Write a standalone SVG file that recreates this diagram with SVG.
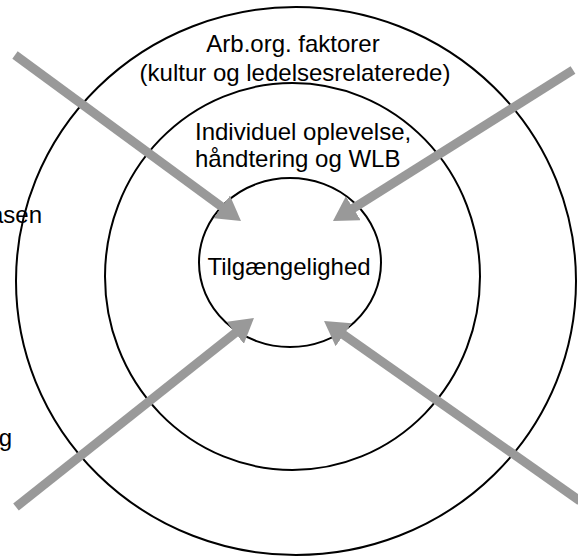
<svg xmlns="http://www.w3.org/2000/svg" width="578" height="556" viewBox="0 0 578 556">
<style>
.ring{fill:none;stroke:#000;stroke-width:2}
.lbl{font-family:"Liberation Sans",Arial,sans-serif;font-size:24px;fill:#000}
.arr{fill:none;stroke:#999;stroke-width:9}
</style>
<defs>
<marker id="ah" markerUnits="userSpaceOnUse" markerWidth="26" markerHeight="28" refX="4" refY="14" orient="auto" viewBox="0 0 26 28">
<path d="M0,0 L24,14 L0,28 z" fill="#999"/>
</marker>
</defs>
<rect width="578" height="556" fill="#fff"/>
<g id="outer">
<ellipse class="ring" cx="296" cy="281" rx="280" ry="274"/>
<text class="lbl" x="293" y="52" text-anchor="middle">Arb.org. faktorer</text>
<text class="lbl" x="295" y="81" text-anchor="middle">(kultur og ledelsesrelaterede)</text>
</g>
<g id="middle">
<ellipse class="ring" cx="292.5" cy="276.5" rx="187.5" ry="193.5"/>
<text class="lbl" x="195" y="140">Individuel oplevelse,</text>
<text class="lbl" x="195" y="167">håndtering og WLB</text>
</g>
<g id="inner">
<ellipse class="ring" cx="290" cy="262.5" rx="91" ry="84.5"/>
<text class="lbl" x="289" y="275" text-anchor="middle">Tilgængelighed</text>
</g>
<g id="left-labels">
<text class="lbl" x="42" y="223" text-anchor="end">asen</text>
<text class="lbl" x="12" y="446" text-anchor="end">g</text>
</g>
<g id="connectors">
<line class="arr" x1="15" y1="55" x2="224.9" y2="209.2" marker-end="url(#ah)"/>
<line class="arr" x1="573" y1="70" x2="349.9" y2="210.4" marker-end="url(#ah)"/>
<line class="arr" x1="16" y1="507" x2="238.3" y2="330.4" marker-end="url(#ah)"/>
<line class="arr" x1="580" y1="501" x2="340.4" y2="332.5" marker-end="url(#ah)"/>
</g>
</svg>
